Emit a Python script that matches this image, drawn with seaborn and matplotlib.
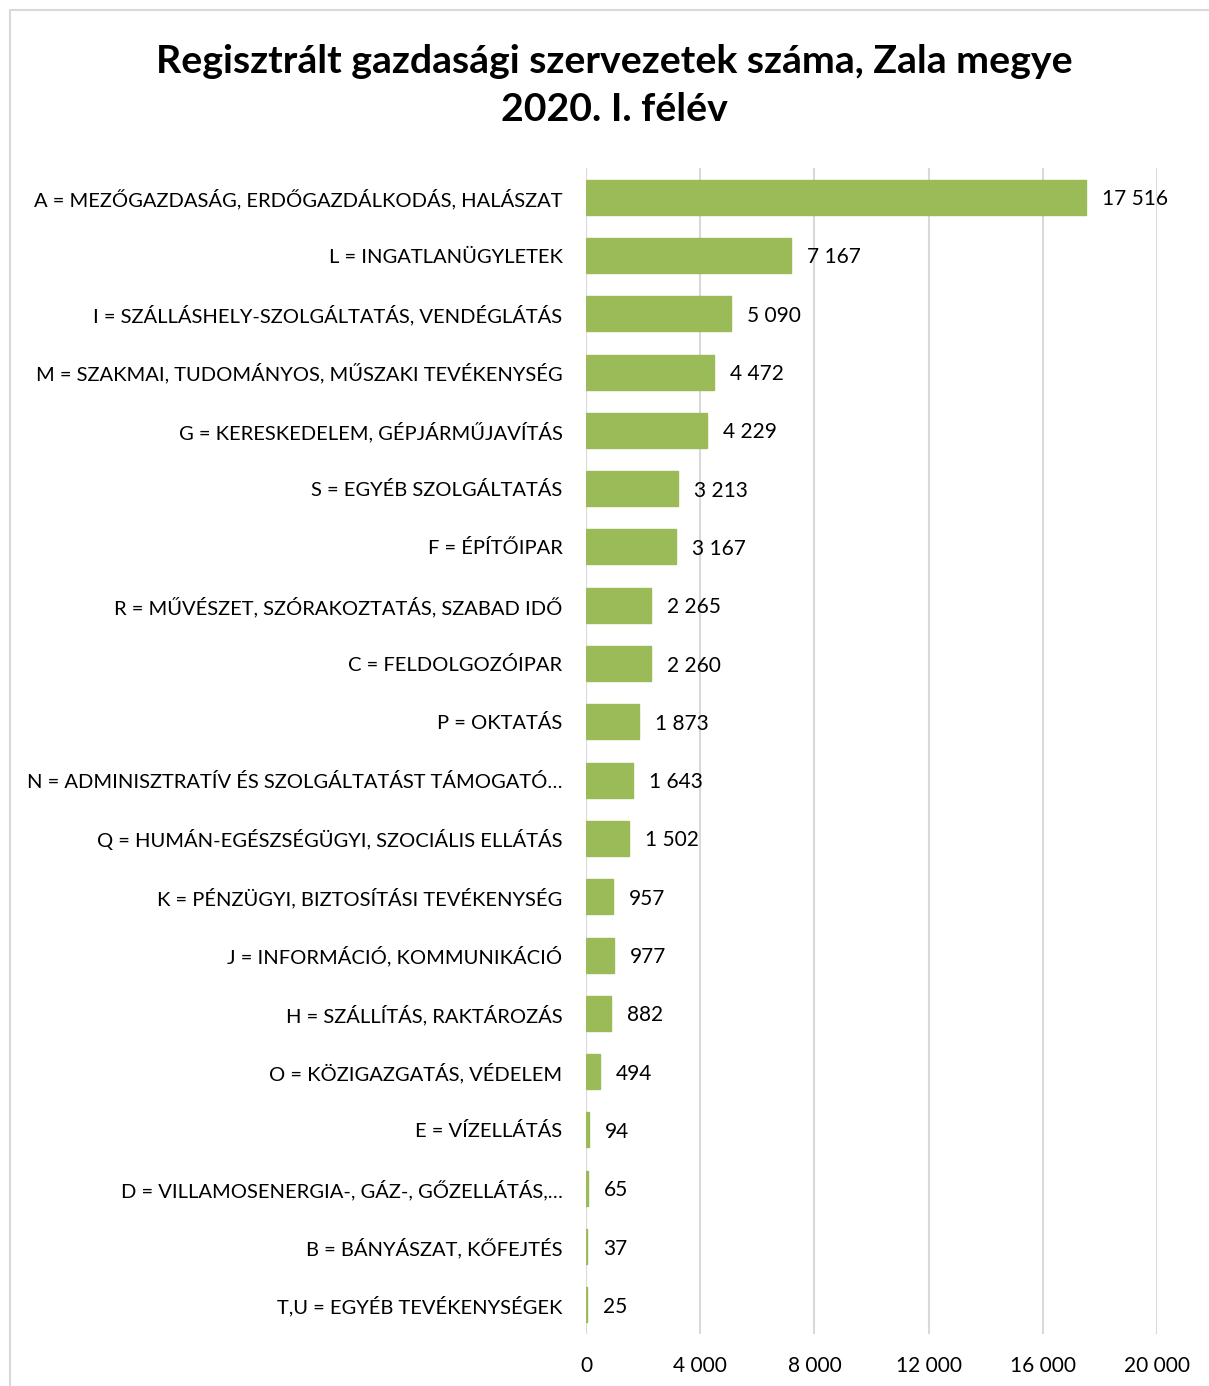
import matplotlib
matplotlib.use("Agg")
import matplotlib.pyplot as plt
import seaborn as sns
import pandas as pd
from matplotlib.patches import Rectangle

categories = [
    "A = MEZŐGAZDASÁG, ERDŐGAZDÁLKODÁS, HALÁSZAT",
    "L = INGATLANÜGYLETEK",
    "I = SZÁLLÁSHELY-SZOLGÁLTATÁS, VENDÉGLÁTÁS",
    "M = SZAKMAI, TUDOMÁNYOS, MŰSZAKI TEVÉKENYSÉG",
    "G = KERESKEDELEM, GÉPJÁRMŰJAVÍTÁS",
    "S = EGYÉB SZOLGÁLTATÁS",
    "F = ÉPÍTŐIPAR",
    "R = MŰVÉSZET, SZÓRAKOZTATÁS, SZABAD IDŐ",
    "C = FELDOLGOZÓIPAR",
    "P = OKTATÁS",
    "N = ADMINISZTRATÍV ÉS SZOLGÁLTATÁST TÁMOGATÓ…",
    "Q = HUMÁN-EGÉSZSÉGÜGYI, SZOCIÁLIS ELLÁTÁS",
    "K = PÉNZÜGYI, BIZTOSÍTÁSI TEVÉKENYSÉG",
    "J = INFORMÁCIÓ, KOMMUNIKÁCIÓ",
    "H = SZÁLLÍTÁS, RAKTÁROZÁS",
    "O = KÖZIGAZGATÁS, VÉDELEM",
    "E = VÍZELLÁTÁS",
    "D = VILLAMOSENERGIA-, GÁZ-, GŐZELLÁTÁS,…",
    "B = BÁNYÁSZAT, KŐFEJTÉS",
    "T,U = EGYÉB TEVÉKENYSÉGEK",
]
values = [17516, 7167, 5090, 4472, 4229, 3213, 3167, 2265, 2260, 1873,
          1643, 1502, 957, 977, 882, 494, 94, 65, 37, 25]
x_ticks = [0, 4000, 8000, 12000, 16000, 20000]

title = "Regisztrált gazdasági szervezetek száma, Zala megye\n2020. I. félév"

def fmt(v):
    return f"{v:,}".replace(",", " ")

df = pd.DataFrame({"kategoria": categories, "ertek": values})

sns.set_style("white")
plt.rcParams["font.family"] = ["Lato", "DejaVu Sans"]
plt.rcParams["text.color"] = "black"
plt.rcParams["xtick.color"] = "black"
plt.rcParams["ytick.color"] = "black"

fig = plt.figure(figsize=(12.09, 13.86), dpi=100)
ax = fig.add_axes([586 / 1209, 1 - 1334 / 1386, (1157 - 586) / 1209, (1334 - 168) / 1386])

sns.barplot(data=df, y="kategoria", x="ertek", orient="h", color="#9bbb59",
            saturation=1, width=0.6, edgecolor="#9bbb59", linewidth=1, ax=ax)

ax.set_xlim(0, 20000)
ax.set_xticks(x_ticks)
ax.set_xticklabels([fmt(t) for t in x_ticks], fontsize=15)
ax.tick_params(axis="x", length=0, pad=16, labelcolor="black")
ax.tick_params(axis="y", length=0, pad=17, labelsize=14.5, labelcolor="black")
for lbl in ax.get_yticklabels():
    lbl.set_verticalalignment("center_baseline")
ax.set_xlabel("")
ax.set_ylabel("")
ax.grid(axis="x", color="#d9d9d9", linewidth=1.5)
ax.set_axisbelow(True)
for s in ax.spines.values():
    s.set_visible(False)

for i, v in enumerate(values):
    ax.text(v + 560, i, fmt(v), va="center_baseline", ha="left", fontsize=15,
            color="black")

fig.suptitle(title, fontsize=28.3, fontweight="bold", y=0.968, x=0.508,
             linespacing=1.45, color="black")

fig.patches.append(Rectangle((10 / 1209, -0.01), 1.02, 1 - 10 / 1386 + 0.01,
                             transform=fig.transFigure, fill=False,
                             edgecolor="#d9d9d9", linewidth=1.5))

fig.savefig("out.png", dpi=100)
